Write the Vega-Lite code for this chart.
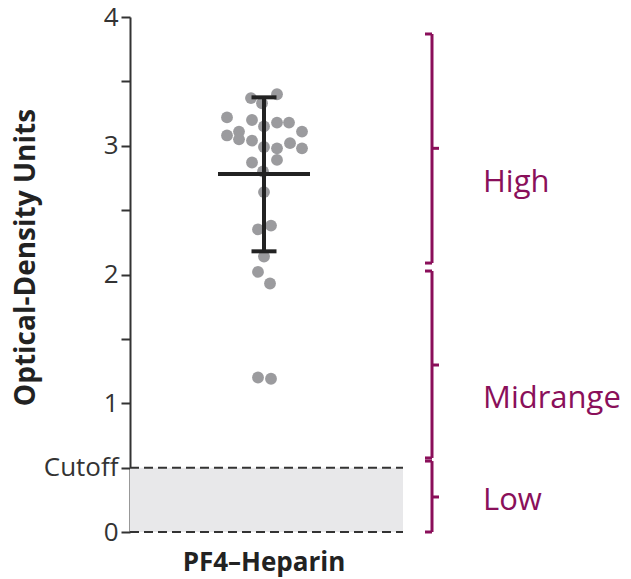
{
  "$schema": "https://vega.github.io/schema/vega-lite/v6.json",
  "width": 500,
  "height": 515,
  "autosize": {"type": "none"},
  "padding": {"left": 130, "top": 17, "right": 1, "bottom": 47},
  "background": "white",
  "config": {"view": {"stroke": null}, "font": "Open Sans", "axis": {"grid": false}},
  "datasets": {
    "points": [
      {"jitter": 24.2, "od": 3.37}, {"jitter": 26.4, "od": 3.33}, {"jitter": 29.4, "od": 3.40},
      {"jitter": 19.4, "od": 3.22}, {"jitter": 24.4, "od": 3.20}, {"jitter": 26.8, "od": 3.15},
      {"jitter": 29.4, "od": 3.18}, {"jitter": 31.8, "od": 3.18}, {"jitter": 34.4, "od": 3.11},
      {"jitter": 19.4, "od": 3.08}, {"jitter": 21.8, "od": 3.11}, {"jitter": 21.8, "od": 3.05},
      {"jitter": 24.4, "od": 3.04}, {"jitter": 26.8, "od": 2.99}, {"jitter": 29.4, "od": 2.98},
      {"jitter": 32.0, "od": 3.02}, {"jitter": 34.4, "od": 2.98}, {"jitter": 24.4, "od": 2.87},
      {"jitter": 29.4, "od": 2.89}, {"jitter": 26.6, "od": 2.80}, {"jitter": 26.8, "od": 2.64},
      {"jitter": 25.6, "od": 2.35}, {"jitter": 28.2, "od": 2.38}, {"jitter": 26.8, "od": 2.14},
      {"jitter": 25.6, "od": 2.02}, {"jitter": 28.0, "od": 1.93}, {"jitter": 25.6, "od": 1.20},
      {"jitter": 28.2, "od": 1.19}
    ],
    "summary": [{"group": "PF4–Heparin", "mean": 2.78, "lo": 2.18, "hi": 3.376}],
    "band": [{"lo": 0, "hi": 0.5}],
    "zones": [
      {"zone": "High", "top": 3.868, "bottom": 2.089, "mid": 2.98, "labelY": 2.64},
      {"zone": "Midrange", "top": 2.027, "bottom": 0.575, "mid": 1.297, "labelY": 0.963},
      {"zone": "Low", "top": 0.551, "bottom": 0.0, "mid": 0.272, "labelY": 0.171}
    ]
  },
  "resolve": {"axis": {"y": "independent"}},
  "layer": [
    {
      "data": {"name": "band"},
      "mark": {"type": "rect", "color": "#e8e8ea"},
      "encoding": {
        "x": {"datum": 0, "type": "quantitative", "scale": {"domain": [0, 100]}, "axis": null},
        "x2": {"datum": 54.6},
        "y": {
          "field": "lo", "type": "quantitative", "scale": {"domain": [0, 4]},
          "axis": {
            "orient": "left",
            "values": [0, 0.5, 1, 1.5, 2, 2.5, 3, 3.5, 4],
            "labelExpr": "datum.value == 0.5 ? 'Cutoff' : (datum.value % 1 == 0 ? '' + datum.value : '')",
            "title": "Optical-Density Units",
            "titleFont": "Open Sans",
            "titleFontSize": 28,
            "titleFontWeight": "bold",
            "titleColor": "#222222",
            "titleY": 240,
            "titlePadding": 3,
            "labelFont": "Open Sans",
            "labelFontSize": 26,
            "labelColor": "#333333",
            "labelPadding": 3,
            "labelOverlap": false,
            "tickSize": 9,
            "tickWidth": 2,
            "tickColor": "#333333",
            "domainColor": "#333333",
            "domainWidth": 2,
            "grid": false
          }
        },
        "y2": {"field": "hi"}
      }
    },
    {
      "data": {"name": "band"},
      "mark": {"type": "rule", "color": "#333333", "strokeWidth": 2, "strokeDash": [9, 5]},
      "encoding": {
        "x": {"datum": 0, "type": "quantitative", "scale": {"domain": [0, 100]}, "axis": null},
        "x2": {"datum": 54.6},
        "y": {"field": "lo", "type": "quantitative", "scale": {"domain": [0, 4]}, "axis": null}
      }
    },
    {
      "data": {"name": "band"},
      "mark": {"type": "rule", "color": "#333333", "strokeWidth": 2, "strokeDash": [9, 5]},
      "encoding": {
        "x": {"datum": 0, "type": "quantitative", "scale": {"domain": [0, 100]}, "axis": null},
        "x2": {"datum": 54.6},
        "y": {"field": "hi", "type": "quantitative", "scale": {"domain": [0, 4]}, "axis": null}
      }
    },
    {
      "data": {"name": "points"},
      "mark": {"type": "circle", "size": 140, "color": "#9b9b9e", "opacity": 1},
      "encoding": {
        "x": {"field": "jitter", "type": "quantitative", "scale": {"domain": [0, 100]}, "axis": null},
        "y": {"field": "od", "type": "quantitative", "scale": {"domain": [0, 4]}, "axis": null}
      }
    },
    {
      "data": {"name": "summary"},
      "mark": {"type": "rule", "color": "#222222", "strokeWidth": 4},
      "encoding": {
        "x": {"datum": 26.8, "type": "quantitative", "scale": {"domain": [0, 100]}, "axis": null},
        "y": {"field": "lo", "type": "quantitative", "scale": {"domain": [0, 4]}, "axis": null},
        "y2": {"field": "hi"}
      }
    },
    {
      "data": {"name": "summary"},
      "mark": {"type": "rule", "color": "#222222", "strokeWidth": 4},
      "encoding": {
        "x": {"datum": 24.3, "type": "quantitative", "scale": {"domain": [0, 100]}, "axis": null},
        "x2": {"datum": 29.3},
        "y": {"field": "lo", "type": "quantitative", "scale": {"domain": [0, 4]}, "axis": null}
      }
    },
    {
      "data": {"name": "summary"},
      "mark": {"type": "rule", "color": "#222222", "strokeWidth": 4},
      "encoding": {
        "x": {"datum": 24.3, "type": "quantitative", "scale": {"domain": [0, 100]}, "axis": null},
        "x2": {"datum": 29.3},
        "y": {"field": "hi", "type": "quantitative", "scale": {"domain": [0, 4]}, "axis": null}
      }
    },
    {
      "data": {"name": "summary"},
      "mark": {"type": "rule", "color": "#222222", "strokeWidth": 4},
      "encoding": {
        "x": {"datum": 17.6, "type": "quantitative", "scale": {"domain": [0, 100]}, "axis": null},
        "x2": {"datum": 36.0},
        "y": {"field": "mean", "type": "quantitative", "scale": {"domain": [0, 4]}, "axis": null}
      }
    },
    {
      "data": {"name": "summary"},
      "mark": {"type": "text", "fontSize": 26, "fontWeight": "bold", "color": "#222222", "baseline": "middle", "align": "center"},
      "encoding": {
        "x": {"datum": 26.8, "type": "quantitative", "scale": {"domain": [0, 100]}, "axis": null},
        "y": {"datum": -0.24, "type": "quantitative", "scale": {"domain": [0, 4]}, "axis": null},
        "text": {"field": "group"}
      }
    },
    {
      "data": {"name": "zones"},
      "mark": {"type": "rule", "color": "#8a0f5a", "strokeWidth": 3},
      "encoding": {
        "x": {"datum": 60.4, "type": "quantitative", "scale": {"domain": [0, 100]}, "axis": null},
        "y": {"field": "bottom", "type": "quantitative", "scale": {"domain": [0, 4]}, "axis": null},
        "y2": {"field": "top"}
      }
    },
    {
      "data": {"name": "zones"},
      "mark": {"type": "rule", "color": "#8a0f5a", "strokeWidth": 3},
      "encoding": {
        "x": {"datum": 59.0, "type": "quantitative", "scale": {"domain": [0, 100]}, "axis": null},
        "x2": {"datum": 60.4},
        "y": {"field": "top", "type": "quantitative", "scale": {"domain": [0, 4]}, "axis": null}
      }
    },
    {
      "data": {"name": "zones"},
      "mark": {"type": "rule", "color": "#8a0f5a", "strokeWidth": 3},
      "encoding": {
        "x": {"datum": 59.0, "type": "quantitative", "scale": {"domain": [0, 100]}, "axis": null},
        "x2": {"datum": 60.4},
        "y": {"field": "bottom", "type": "quantitative", "scale": {"domain": [0, 4]}, "axis": null}
      }
    },
    {
      "data": {"name": "zones"},
      "mark": {"type": "rule", "color": "#8a0f5a", "strokeWidth": 3},
      "encoding": {
        "x": {"datum": 60.4, "type": "quantitative", "scale": {"domain": [0, 100]}, "axis": null},
        "x2": {"datum": 61.8},
        "y": {"field": "mid", "type": "quantitative", "scale": {"domain": [0, 4]}, "axis": null}
      }
    },
    {
      "data": {"name": "zones"},
      "mark": {"type": "text", "fontSize": 31, "color": "#8a0f5a", "align": "left", "baseline": "alphabetic"},
      "encoding": {
        "x": {"datum": 70.6, "type": "quantitative", "scale": {"domain": [0, 100]}, "axis": null},
        "y": {"field": "labelY", "type": "quantitative", "scale": {"domain": [0, 4]}, "axis": null},
        "text": {"field": "zone"}
      }
    }
  ]
}
